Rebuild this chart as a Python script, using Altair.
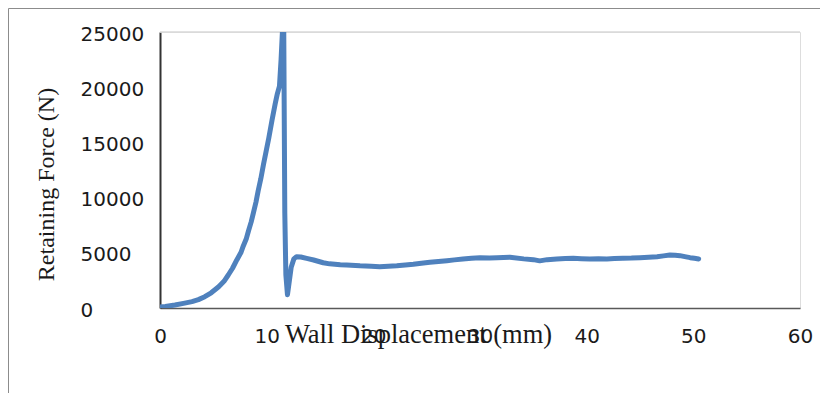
import altair as alt
import pandas as pd

# Wall displacement (mm)
displacement = [0, 0.5, 1.4, 2.2, 3.0, 3.6, 4.2, 4.8, 5.5, 6.0, 6.4, 6.8, 7.2, 7.6, 7.8,
                8.1, 8.3, 8.55, 8.75, 9.0, 9.2, 9.45, 9.7, 9.95, 10.2, 10.5, 10.8, 11.0,
                11.2, 11.35, 11.5, 11.6, 11.7, 11.8, 11.95, 12.05, 12.3, 12.55, 12.8, 13.2,
                13.75, 14.4, 15.3, 15.9, 16.9, 17.5, 18.75, 19.8, 20.6, 21.4, 22.2, 23.0,
                23.75, 24.5, 25.3, 26.1, 26.9, 27.6, 28.4, 29.2, 30.0, 30.9, 31.6, 32.8,
                34.1, 35.0, 35.6, 36.3, 37.2, 38.0, 38.75, 39.5, 40.3, 41.1, 41.9, 42.6,
                43.4, 44.2, 45.0, 45.8, 46.6, 47.2, 47.8, 48.3, 48.75, 49.2, 49.7, 50.1, 50.5]
# Retaining force (N)
force = [80, 130, 270, 420, 580, 760, 1020, 1380, 1930, 2420, 2990, 3600, 4350, 5050, 5600,
         6300, 7000, 7800, 8600, 9600, 10600, 11700, 13000, 14200, 15400, 17000, 18500, 19400,
         20100, 22500, 25500, 25500, 8600, 3000, 1200, 1900, 3700, 4450, 4650, 4620,
         4500, 4350, 4100, 4000, 3920, 3900, 3820, 3780, 3740, 3790, 3830, 3900,
         3960, 4050, 4140, 4220, 4290, 4360, 4440, 4500, 4560, 4540, 4560, 4600,
         4450, 4380, 4270, 4380, 4440, 4480, 4500, 4470, 4440, 4450, 4440, 4480,
         4500, 4520, 4560, 4600, 4650, 4720, 4800, 4780, 4740, 4650, 4560, 4500, 4440]

x_ticks = [0, 10, 20, 30, 40, 50, 60]
y_ticks = [0, 5000, 10000, 15000, 20000, 25000]

df = pd.DataFrame({"disp": displacement, "force": force})
one = pd.DataFrame({"a": [0]})

x_enc = alt.X("disp:Q",
              scale=alt.Scale(domain=[0, 60], nice=False),
              axis=alt.Axis(values=x_ticks, title="Wall Displacement (mm)", grid=False,
                            ticks=False, domainColor="#595959", domainWidth=1.5,
                            labelFont="DejaVu Sans", labelFontSize=20, labelColor="#1a1a1a",
                            labelBaseline="middle", labelPadding=28, labelFlush=False,
                            format="d",
                            titleFont="Liberation Serif", titleFontSize=26.5,
                            titleFontWeight="normal", titleColor="#1a1a1a",
                            titleX=258, titleY=34, titleAlign="center",
                            titleBaseline="alphabetic"))
y_enc = alt.Y("force:Q",
              scale=alt.Scale(domain=[0, 25000], nice=False),
              axis=alt.Axis(values=y_ticks, title="Retaining Force (N)", grid=False,
                            ticks=False, domainColor="#333333", domainWidth=2,
                            labelFont="DejaVu Sans", labelFontSize=20, labelColor="#1a1a1a",
                            labelAlign="left", labelBaseline="middle", labelPadding=80,
                            labelOffset=2, format="d",
                            titleFont="Liberation Serif", titleFontSize=24,
                            titleFontWeight="normal", titleColor="#1a1a1a",
                            titleAngle=270, titleX=-107, titleY=152, titleAlign="center",
                            titleBaseline="alphabetic"))

frame = alt.Chart(one).mark_rect(fill="transparent", stroke="#8c8c8c", strokeWidth=1,
                                 clip=False).encode(
    x=alt.value(-151.5), y=alt.value(-23.5), x2=alt.value(900), y2=alt.value(600))

grid_top = alt.Chart(one).mark_rule(color="#d9d9d9", strokeWidth=1.5).encode(
    y=alt.datum(25000, type="quantitative"))

line = alt.Chart(df).mark_line(color="#4F81BD", strokeWidth=5, clip=True,
                               strokeJoin="round", strokeCap="round").encode(
    x=x_enc, y=y_enc)

chart = alt.layer(frame, grid_top, line).properties(
    width=640, height=276,
    padding={"left": 152, "top": 24, "right": 20, "bottom": 85},
    autosize=alt.AutoSizeParams(type="none"),
).configure_view(strokeWidth=0).configure(background="white")

chart.save("out.html", embed_options={"renderer": "svg", "actions": False})
